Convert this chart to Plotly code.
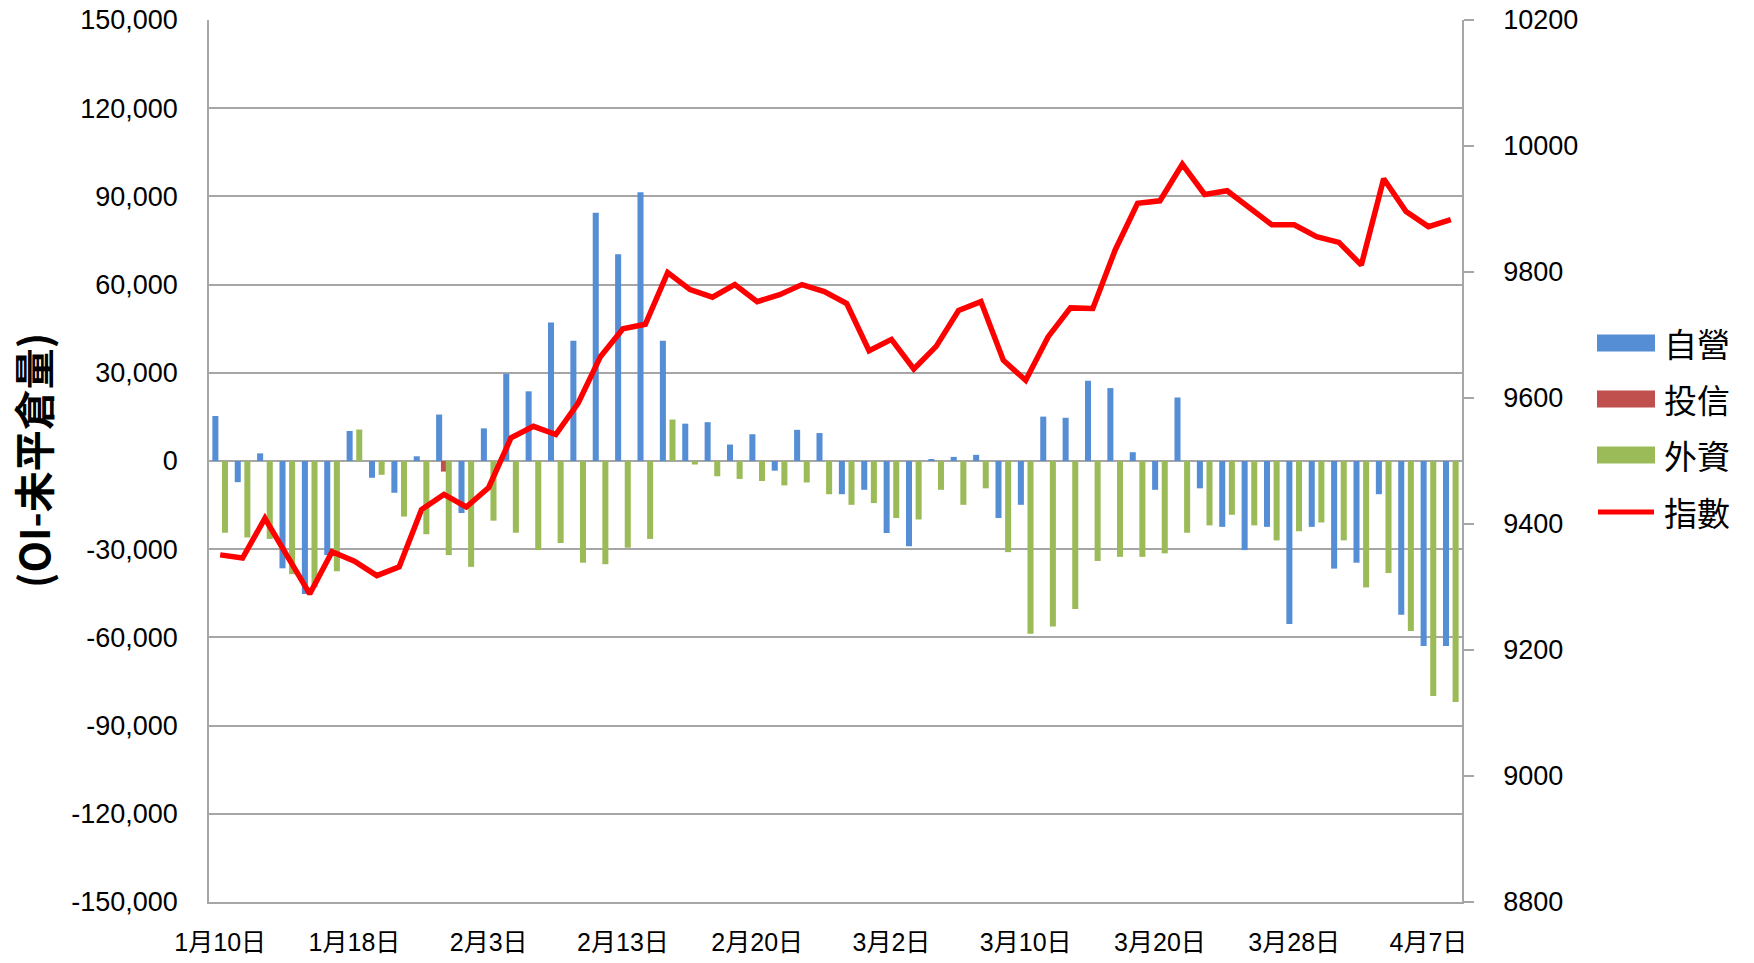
import plotly.graph_objects as go

dates = ["1月10日", "1月11日", "1月12日", "1月13日", "1月16日", "1月17日", "1月18日", "1月19日",
         "1月20日", "1月23日", "1月24日", "2月2日", "2月3日", "2月6日", "2月7日", "2月8日",
         "2月9日", "2月10日", "2月13日", "2月14日", "2月15日", "2月16日", "2月17日", "2月18日",
         "2月20日", "2月21日", "2月22日", "2月23日", "2月24日", "3月1日", "3月2日", "3月3日",
         "3月6日", "3月7日", "3月8日", "3月9日", "3月10日", "3月13日", "3月14日", "3月15日",
         "3月16日", "3月17日", "3月20日", "3月21日", "3月22日", "3月23日", "3月24日", "3月27日",
         "3月28日", "3月29日", "3月30日", "3月31日", "4月5日", "4月6日", "4月7日", "4月10日"]

dealer = [15300, -7200, 2600, -36500, -45200, -32000, 10200, -5700, -10800, 1600, 15800, -17700,
          11100, 29700, 23700, 47100, 40900, 84400, 70300, 91400, 40900, 12700, 13200, 5600,
          9100, -3300, 10600, 9500, -11300, -9800, -24500, -29000, 400, 1400, 2100, -19400,
          -14900, 15100, 14700, 27300, 24800, 3000, -9800, 21600, -9300, -22400, -30300, -22400,
          -55400, -22400, -36600, -34600, -11300, -52300, -62900, -62900]

trust = [0, 0, 0, 0, 0, 0, 0, 0, 0, 0, -3600, 0,
         0, 0, 0, 0, 0, 0, 0, 0, 0, 0, 0, 0,
         0, 0, 0, 0, 0, 0, 0, 0, 0, 0, 0, 0,
         0, 0, 0, 0, 0, 0, 0, 0, 0, 0, 0, 0,
         0, 0, 0, 0, 0, 0, 0, 0]

foreign = [-24400, -26000, -26500, -38500, -43000, -37500, 10700, -4700, -18900, -24900, -32000, -36000,
           -20300, -24400, -30300, -27900, -34600, -35100, -29500, -26500, 14100, -1200, -5200, -6100,
           -6800, -8300, -7300, -11300, -14900, -14300, -19400, -19900, -9800, -14900, -9300, -31000,
           -58800, -56300, -50300, -34000, -32600, -32600, -31400, -24400, -21900, -18300, -21900, -27000,
           -23900, -20900, -27000, -43000, -38100, -57800, -79900, -82000]

index = [9351, 9346, 9409, 9350, 9289, 9356, 9341, 9318, 9332, 9423, 9447, 9427,
         9458, 9537, 9555, 9542, 9592, 9666, 9710, 9717, 9799, 9772, 9760, 9780,
         9753, 9764, 9780, 9769, 9750, 9675, 9693, 9646, 9682, 9739, 9753, 9660,
         9628, 9697, 9743, 9742, 9835, 9909, 9913, 9971, 9923, 9929, 9903, 9875,
         9875, 9856, 9847, 9811, 9948, 9896, 9872, 9883]

left_ticks = [150000, 120000, 90000, 60000, 30000, 0, -30000, -60000, -90000, -120000, -150000]
left_labels = ["150,000", "120,000", "90,000", "60,000", "30,000", "0", "-30,000", "-60,000",
               "-90,000", "-120,000", "-150,000"]
right_ticks = [8800, 9000, 9200, 9400, 9600, 9800, 10000, 10200]
x_tick_labels = dates[::6]

series_names = ["自營", "投信", "外資", "指數"]
colors = ["#558ED5", "#C0504D", "#9BBB59", "#FF0000"]
y_title = "(OI-未平倉量)"

FONT = "Liberation Sans, Noto Sans CJK TC, sans-serif"
CJK = "Noto Sans CJK TC, sans-serif"

fig = go.Figure()
bw = 0.27
for vals, name, col, off in [(dealer, series_names[0], colors[0], -0.35),
                             (trust, series_names[1], colors[1], -0.135),
                             (foreign, series_names[2], colors[2], 0.08)]:
    fig.add_trace(go.Bar(x=dates, y=vals, name=name, marker=dict(color=col, line=dict(width=0)),
                         width=bw, offset=off, showlegend=False))

fig.add_trace(go.Scatter(x=dates, y=index, name=series_names[3], mode="lines",
                         line=dict(color=colors[3], width=5.5), yaxis="y2", showlegend=False))

L, R, T, B = 209, 1462, 20, 902
W, H = 1754, 963

def px(X):
    return (X - L) / (R - L)

def py(Y):
    return (B - Y) / (B - T)

shapes = []
annotations = []
leg_y = [343, 399, 455, 512]
for i, (name, col) in enumerate(zip(series_names, colors)):
    yc = leg_y[i]
    if i < 3:
        shapes.append(dict(type="rect", xref="paper", yref="paper",
                           x0=px(1597), x1=px(1655), y0=py(yc + 8.5), y1=py(yc - 8.5),
                           fillcolor=col, line=dict(width=0)))
    else:
        shapes.append(dict(type="line", xref="paper", yref="paper",
                           x0=px(1598), x1=px(1654), y0=py(yc), y1=py(yc),
                           line=dict(color=col, width=5)))
    annotations.append(dict(xref="paper", yref="paper", x=px(1662), y=py(yc), text=name,
                            xanchor="left", yanchor="middle", showarrow=False,
                            font=dict(family=CJK, size=33, color="#000000")))

annotations.append(dict(xref="paper", yref="paper", x=px(32), y=py(461), text=y_title,
                        textangle=-90, xanchor="center", yanchor="middle", showarrow=False,
                        font=dict(family=CJK, size=41, weight="bold", color="#000000")))

fig.update_layout(
    width=W, height=H,
    margin=dict(l=L, r=W - R, t=T, b=H - B, autoexpand=False),
    paper_bgcolor="white", plot_bgcolor="white",
    barmode="overlay",
    font=dict(family=FONT, color="#000000"),
    shapes=shapes, annotations=annotations,
    xaxis=dict(type="category", tickmode="array", tickvals=x_tick_labels, ticktext=x_tick_labels,
               showgrid=False, showline=True, linecolor="#A6A6A6", linewidth=1.5,
               ticks="", tickfont=dict(family=FONT, size=25, color="#000000"),
               ticklabelstandoff=17, range=[-0.5, len(dates) - 0.5], zeroline=False),
    yaxis=dict(range=[-150000, 150000], tickmode="array", tickvals=left_ticks, ticktext=left_labels,
               showgrid=True, gridcolor="#A6A6A6", gridwidth=1.5,
               showline=True, linecolor="#A6A6A6", linewidth=1.5, zeroline=False, ticks="",
               tickfont=dict(family=FONT, size=27, color="#000000"), ticklabelstandoff=24),
    yaxis2=dict(range=[8800, 10200], overlaying="y", side="right", tickmode="array",
                tickvals=right_ticks, ticktext=[str(v) for v in right_ticks],
                showgrid=False, showline=True, linecolor="#A6A6A6", linewidth=1.5, zeroline=False,
                ticks="outside", ticklen=10, tickcolor="#A6A6A6", tickwidth=1.5,
                tickfont=dict(family=FONT, size=27, color="#000000"), ticklabelstandoff=24),
)

fig.write_html("out.html", config={"displayModeBar": False},
               post_script="document.body.style.margin='0';document.body.style.overflow='hidden';")
